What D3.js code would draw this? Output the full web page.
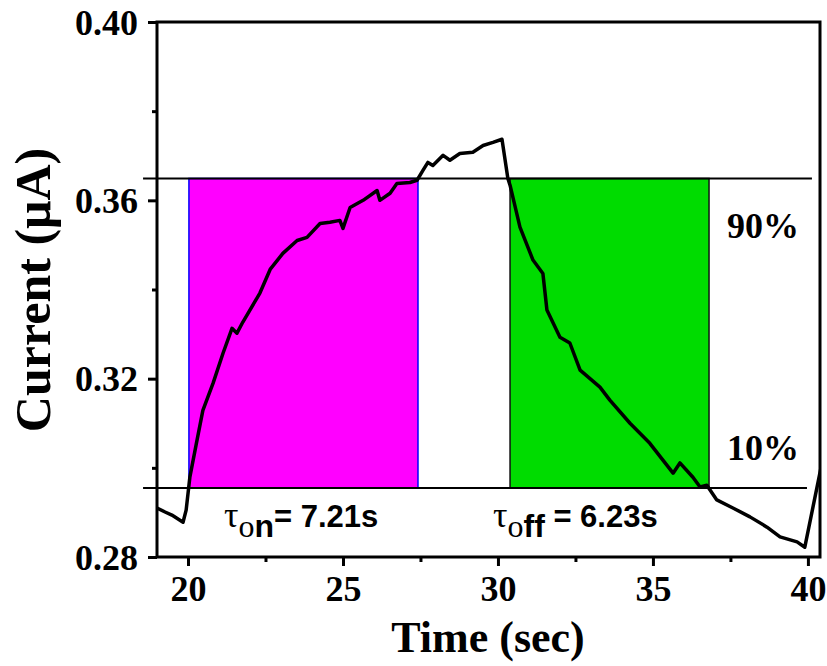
<!DOCTYPE html>
<html>
<head>
<meta charset="utf-8">
<script src="https://cdn.jsdelivr.net/npm/d3@7"></script>
<style>
  body { margin: 0; background: #fff; }
  .tick text { font-family: "Liberation Serif", "Times New Roman", serif; font-weight: bold; }
  .axisLabel { font-family: "Liberation Serif", "Times New Roman", serif; font-weight: bold; }
</style>
</head>
<body>
<div id="chart"></div>
<script>
// Photocurrent trace (time in sec, current in µA)
const times = [19.0, 19.26, 19.48, 19.84, 19.94, 20.06, 20.26, 20.48, 20.81, 21.13, 21.42, 21.58, 21.77,
  22.32, 22.65, 23.06, 23.52, 23.84, 24.26, 24.58, 24.90, 25.0, 25.23, 25.65, 26.10, 26.19, 26.52,
  26.74, 27.16, 27.39, 27.58, 27.74, 27.90, 28.23, 28.45, 28.77, 29.19, 29.52, 29.84, 30.13,
  30.32, 30.39, 30.71, 31.13, 31.45, 31.58, 32.0, 32.32, 32.65, 33.29, 33.61, 34.26, 34.90,
  35.65, 35.87, 36.29, 36.52, 36.74, 37.06, 37.58, 38.13, 38.68, 39.10, 39.65, 39.90, 40.45];
const current = [0.2910, 0.2901, 0.2894, 0.2878, 0.2905, 0.2979, 0.3051, 0.3129, 0.3190, 0.3257, 0.3313, 0.3302, 0.3327,
  0.3392, 0.3445, 0.3481, 0.3510, 0.3517, 0.3548, 0.3551, 0.3555, 0.3537, 0.3584, 0.3600, 0.3622, 0.3600, 0.3616,
  0.3638, 0.3640, 0.3645, 0.3667, 0.3685, 0.3678, 0.3701, 0.3690, 0.3705, 0.3708, 0.3723, 0.3730, 0.3737,
  0.3649, 0.3634, 0.3540, 0.3466, 0.3436, 0.3354, 0.3293, 0.3280, 0.3219, 0.3181, 0.3152, 0.3100, 0.3055,
  0.2988, 0.3011, 0.2979, 0.2957, 0.2961, 0.2928, 0.2910, 0.2890, 0.2867, 0.2845, 0.2834, 0.2822, 0.3010];

// 90% / 10% levels and the rise / decay windows
const levels = [0.3649, 0.2955];
const levelLabels = ["90%", "10%"];
const riseWindow = [20.03, 27.42];
const decayWindow = [30.39, 36.81];

const xTicks = [20, 25, 30, 35, 40];
const xMinor = [22.5, 27.5, 32.5, 37.5];
const yTicks = [0.28, 0.32, 0.36, 0.40];
const yMinor = [0.30, 0.34, 0.38];

const data = times.map(function(t, i) { return {t: t, c: current[i]}; });

const width = 827, height = 666;
const margin = {top: 22, left: 157, right: 7, bottom: 109};

const svg = d3.select("#chart")
  .append("svg")
  .attr("width", width)
  .attr("height", height);

// Scales
const xScale = d3.scaleLinear()
  .domain([19.0, 40.39])
  .range([margin.left, width - margin.right]);

const yScale = d3.scaleLinear()
  .domain([0.28, 0.40])
  .range([height - margin.bottom, margin.top]);

svg.append("clipPath").attr("id", "clip")
  .append("rect")
  .attr("x", margin.left).attr("y", margin.top)
  .attr("width", width - margin.left - margin.right)
  .attr("height", height - margin.top - margin.bottom);

// shaded windows between the 10% and 90% levels
svg.append("rect")
  .attr("x", xScale(riseWindow[0]))
  .attr("y", yScale(levels[0]))
  .attr("width", xScale(riseWindow[1]) - xScale(riseWindow[0]))
  .attr("height", yScale(levels[1]) - yScale(levels[0]))
  .attr("fill", "#ff00ff")
  .attr("stroke", "#0000ff")
  .attr("stroke-width", 1.5);

svg.append("rect")
  .attr("x", xScale(decayWindow[0]))
  .attr("y", yScale(levels[0]))
  .attr("width", xScale(decayWindow[1]) - xScale(decayWindow[0]))
  .attr("height", yScale(levels[1]) - yScale(levels[0]))
  .attr("fill", "#00dc00")
  .attr("stroke", "#111")
  .attr("stroke-width", 1.5);

// level lines
svg.selectAll(".level")
  .data(levels)
  .enter()
  .append("line")
    .attr("class", "level")
    .attr("x1", xScale(18.55))
    .attr("x2", function(d, i) { return xScale(i == 0 ? 40.13 : 39.97); })
    .attr("y1", function(d) { return yScale(d); })
    .attr("y2", function(d) { return yScale(d); })
    .attr("stroke", "#000")
    .attr("stroke-width", 2);

// Curve
const line = d3.line()
  .x(function(d) { return xScale(d.t); })
  .y(function(d) { return yScale(d.c); });

svg.append("path")
  .datum(data)
  .attr("clip-path", "url(#clip)")
  .attr("d", line)
  .attr("fill", "none")
  .attr("stroke", "#000")
  .attr("stroke-width", 3.5)
  .attr("stroke-linejoin", "round");

// Axes
const xAxis = svg.append("g")
  .attr("transform", `translate(0,${height - margin.bottom})`)
  .call(d3.axisBottom(xScale).tickValues(xTicks).tickSize(9).tickPadding(9).tickFormat(d3.format("d")));

const xAxisMinor = svg.append("g")
  .attr("transform", `translate(0,${height - margin.bottom})`)
  .call(d3.axisBottom(xScale).tickValues(xMinor).tickSize(5).tickFormat(""));

const yAxis = svg.append("g")
  .attr("transform", `translate(${margin.left},0)`)
  .call(d3.axisLeft(yScale).tickValues(yTicks).tickSize(9).tickPadding(10).tickFormat(d3.format(".2f")));

const yAxisMinor = svg.append("g")
  .attr("transform", `translate(${margin.left},0)`)
  .call(d3.axisLeft(yScale).tickValues(yMinor).tickSize(5).tickFormat(""));

svg.selectAll(".domain").remove();
svg.selectAll(".tick line").attr("stroke", "#000").attr("stroke-width", 3);
svg.selectAll(".tick text").attr("fill", "#000").style("font-size", "36px");
yAxis.selectAll(".tick text").attr("dy", "0.34em");

// frame
svg.append("rect")
  .attr("x", margin.left)
  .attr("y", margin.top)
  .attr("width", width - margin.left - margin.right)
  .attr("height", height - margin.top - margin.bottom)
  .attr("fill", "none")
  .attr("stroke", "#000")
  .attr("stroke-width", 3);

// Labels
svg.append("text")
  .attr("class", "axisLabel")
  .attr("x", 488)
  .attr("y", 652)
  .attr("text-anchor", "middle")
  .style("font-size", "44px")
  .text("Time (sec)");

svg.append("text")
  .attr("class", "axisLabel")
  .attr("transform", "translate(50,290) rotate(-90)")
  .attr("text-anchor", "middle")
  .style("font-size", "50px")
  .text("Current (μA)");

svg.selectAll(".levelLabel")
  .data(levelLabels)
  .enter()
  .append("text")
    .attr("class", "axisLabel levelLabel")
    .attr("x", 763)
    .attr("y", function(d, i) { return i == 0 ? 238 : 460; })
    .attr("text-anchor", "middle")
    .style("font-size", "36px")
    .text(function(d) { return d; });

function tauLabel(x, sub, value) {
  const t = svg.append("text").attr("x", x).attr("y", 527);
  t.append("tspan")
    .style("font-family", "'Liberation Serif', serif")
    .style("font-size", "36px")
    .text("τ");
  t.append("tspan")
    .attr("dy", 10)
    .style("font-family", "'Liberation Serif', serif")
    .style("font-size", "32px")
    .text(sub[0]);
  t.append("tspan")
    .style("font-family", "'Liberation Sans', Arial, sans-serif")
    .style("font-weight", "bold")
    .style("font-size", "32px")
    .text(sub.slice(1));
  t.append("tspan")
    .attr("dy", -10)
    .style("font-family", "'Liberation Sans', Arial, sans-serif")
    .style("font-weight", "bold")
    .style("font-size", "31px")
    .text(value);
}
tauLabel(224, "on", "= 7.21s");
tauLabel(493, "off", " = 6.23s");
</script>
</body>
</html>
